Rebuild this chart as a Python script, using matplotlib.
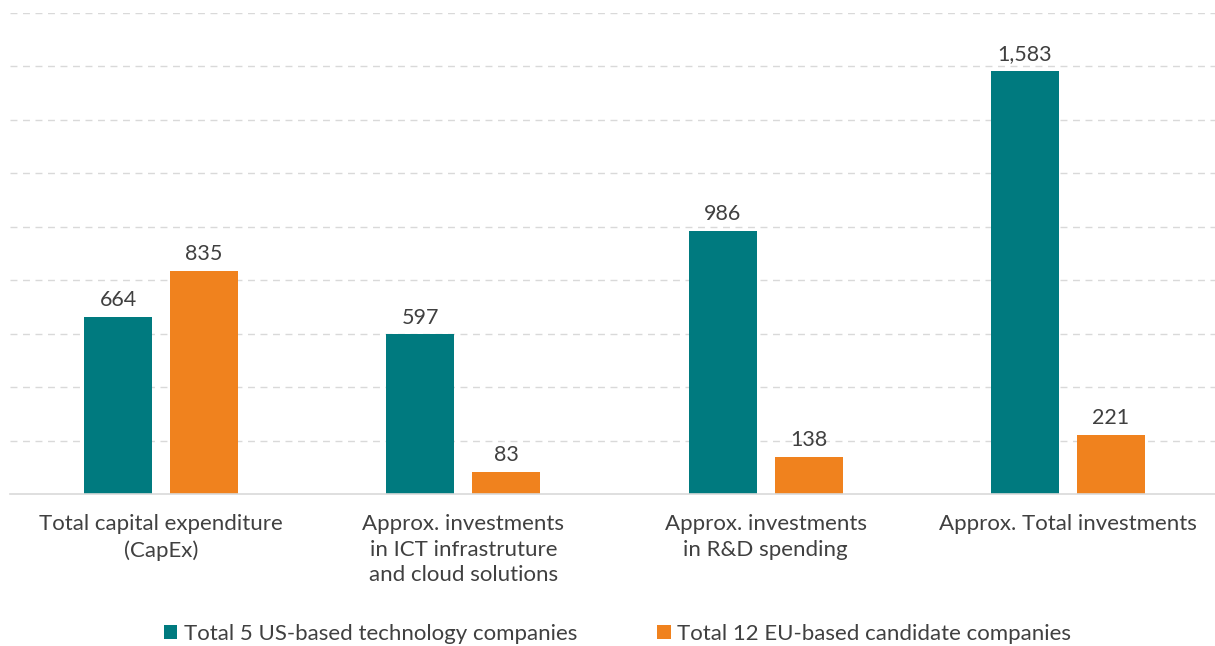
import numpy as np
import matplotlib.pyplot as plt

plt.rcParams['font.family'] = ['Lato', 'DejaVu Sans']

categories = ["Total capital expenditure\n(CapEx)",
              "Approx. investments\nin ICT infrastruture\nand cloud solutions",
              "Approx. investments\nin R&D spending",
              "Approx. Total investments"]
us_values = [664, 597, 986, 1583]
eu_values = [835, 83, 138, 221]
us_label = "Total 5 US-based technology companies"
eu_label = "Total 12 EU-based candidate companies"

teal = '#007A7F'
orange = '#F0821E'
txt = '#404040'

fig = plt.figure(figsize=(12.15, 6.46), dpi=100)
ax = fig.add_axes([10/1215, 1 - 494/646, 1209/1215, (494 - 13)/646])

x = np.arange(len(categories))
w = 0.225
off = 0.142
b1 = ax.bar(x - off, us_values, w, color=teal, label=us_label)
b2 = ax.bar(x + off, eu_values, w, color=orange, label=eu_label)

for bars, vals in [(b1, us_values), (b2, eu_values)]:
    for r, v in zip(bars, vals):
        ax.text(r.get_x() + r.get_width()/2, v + 25, "{:,}".format(v),
                ha='center', va='bottom', fontsize=15.5, color=txt)

ax.set_xlim(-0.5, 3.5)
ax.set_ylim(0, 1800)
ax.set_yticks(np.arange(200, 1801, 200))
ax.yaxis.grid(True, color='#D9D9D9', linestyle=(0, (5, 4)), linewidth=1)
ax.set_axisbelow(True)
ax.tick_params(left=False, labelleft=False, bottom=False)
for s in ['top', 'right', 'left']:
    ax.spines[s].set_visible(False)
ax.spines['bottom'].set_color('#D9D9D9')
ax.spines['bottom'].set_linewidth(1.2)

ax.set_xticks(x)
ax.set_xticklabels(categories, fontsize=16, color=txt, linespacing=1.35)
ax.tick_params(axis='x', pad=11)

fig.legend(loc='center', bbox_to_anchor=(0.5 + 10/1215, 1 - 634/646), ncol=2,
           frameon=False, fontsize=16, labelcolor=txt,
           handlelength=0.6, handleheight=0.6, handletextpad=0.3, columnspacing=3.6)

plt.savefig("out.png", dpi=100)
